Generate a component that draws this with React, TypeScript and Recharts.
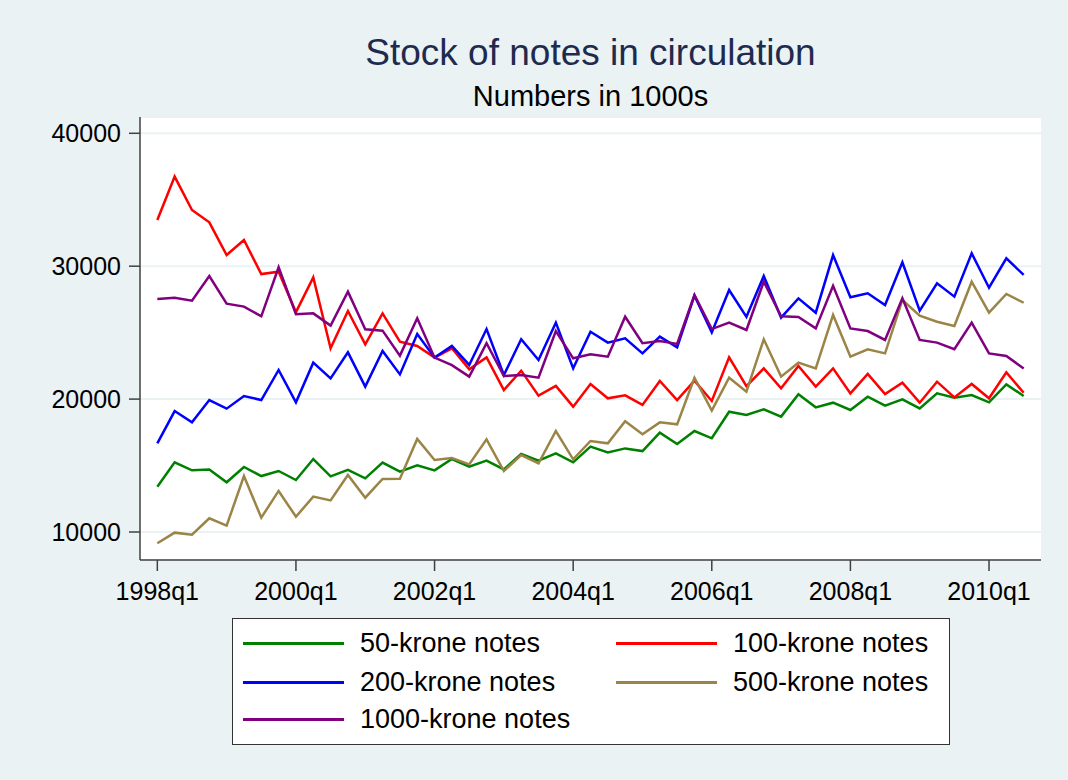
import React from "react";
import {
  LineChart,
  Line,
  XAxis,
  YAxis,
  CartesianGrid,
} from "recharts";

// quarterly, 1998q1 .. 2010q3 (index 0..50)
const tickIdx = [0, 8, 16, 24, 32, 40, 48];
const tickLabels = ["1998q1", "2000q1", "2002q1", "2004q1", "2006q1", "2008q1", "2010q1"];
const yTicks = [10000, 20000, 30000, 40000];

const notes50 = [
  13410, 15240, 14640, 14710, 13740, 14890, 14210, 14590, 13910,
  15490, 14190, 14670, 14040, 15220, 14540, 15020, 14640,
  15490, 14910, 15370, 14710, 15870, 15370, 15920, 15240, 16420,
  15990, 16290, 16090, 17470, 16620, 17600, 17050, 19050, 18800,
  19230, 18680, 20360, 19380, 19730, 19180, 20180, 19510,
  19980, 19300, 20430, 20110, 20310, 19760, 21110, 20230,
];
const notes100 = [
  33480, 36740, 34230, 33300, 30840, 31970, 29410, 29590, 26540,
  29160, 23820, 26630, 24120, 26450, 24320, 24000, 23120,
  23820, 22240, 23140, 20680, 22140, 20260, 20990, 19430, 21140,
  20060, 20280, 19560, 21360, 19930, 21390, 19860, 23140, 20970,
  22310, 20810, 22490, 20940, 22310, 20430, 21890, 20380,
  21230, 19730, 21310, 20130, 21140, 20060, 22010, 20480,
];
const notes200 = [
  16670, 19100, 18250, 19930, 19280, 20230, 19930, 22190, 19760,
  22740, 21560, 23520, 20940, 23620, 21860, 24900, 23120,
  24000, 22570, 25270, 21810, 24500, 22940, 25750, 22310, 25070,
  24250, 24570, 23440, 24700, 23900, 27780, 25020, 28210, 26190,
  29260, 26130, 27580, 26500, 30840, 27660, 27960, 27080,
  30290, 26650, 28710, 27710, 30970, 28380, 30590, 29340,
];
const notes500 = [
  9150, 9950, 9800, 11030, 10480, 14210, 11080, 13090, 11150,
  12660, 12380, 14290, 12580, 13990, 14010, 17000, 15420,
  15570, 15090, 16970, 14590, 15790, 15170, 17600, 15470, 16850,
  16670, 18330, 17350, 18250, 18100, 21610, 19130, 21610, 20560,
  24500, 21690, 22740, 22310, 26330, 23190, 23750, 23440,
  27460, 26280, 25820, 25500, 28830, 26500, 27910, 27250,
];
const notes1000 = [
  27530, 27630, 27410, 29260, 27180, 26960, 26230, 29920, 26380,
  26450, 25530, 28080, 25250, 25150, 23270, 26080, 23120,
  22550, 21690, 24200, 21740, 21810, 21610, 25120, 23070, 23370,
  23190, 26200, 24200, 24370, 24150, 27830, 25270, 25750, 25200,
  28830, 26230, 26180, 25320, 28530, 25320, 25120, 24450,
  27580, 24450, 24250, 23750, 25750, 23440, 23240, 22310,
];

const series = [
  { key: "n50", name: "50-krone notes", color: "#008000", values: notes50 },
  { key: "n100", name: "100-krone notes", color: "#ff0000", values: notes100 },
  { key: "n200", name: "200-krone notes", color: "#0000ff", values: notes200 },
  { key: "n500", name: "500-krone notes", color: "#9a8446", values: notes500 },
  { key: "n1000", name: "1000-krone notes", color: "#800080", values: notes1000 },
];

const data = notes50.map((_, i) => {
  const row: Record<string, number> = { t: i };
  series.forEach((s) => (row[s.key] = s.values[i]));
  return row;
});

const FONT = "'Liberation Sans', Arial, sans-serif";
const BG = "#eaf2f3";
const AXIS = "#404040";

function LegendBox() {
  const cols = [243, 616];
  const rows = [643, 682, 719];
  return (
    <div
      style={{
        position: "absolute",
        left: 232,
        top: 618,
        width: 716,
        height: 125,
        background: "#fff",
        border: "1px solid #333",
      }}
    >
      {series.map((s, i) => {
        const x = cols[i % 2] - 233;
        const y = rows[Math.floor(i / 2)] - 619;
        return (
          <div key={s.key} style={{ position: "absolute", left: x, top: y - 15, height: 30, display: "flex", alignItems: "center" }}>
            <div style={{ width: 101, height: 3, background: s.color }} />
            <span style={{ marginLeft: 16, fontSize: 27, fontFamily: FONT, color: "#000", whiteSpace: "nowrap" }}>{s.name}</span>
          </div>
        );
      })}
    </div>
  );
}

export default function App() {
  return (
    <div
      style={{
        position: "absolute",
        left: 0,
        top: 0,
        width: 1068,
        height: 780,
        background: BG,
        fontFamily: FONT,
      }}
    >
      <div style={{ position: "absolute", left: 140, width: 901, top: 34, textAlign: "center", fontSize: 37, lineHeight: "37px", color: "#1e2a4e" }}>
        Stock of notes in circulation
      </div>
      <div style={{ position: "absolute", left: 140, width: 901, top: 82, textAlign: "center", fontSize: 29, lineHeight: "29px", color: "#000" }}>
        Numbers in 1000s
      </div>
      <LineChart
        width={1068}
        height={780}
        data={data}
        margin={{ top: 117, right: 27, bottom: 180, left: 0 }}
      >
        <CartesianGrid vertical={false} fill="#fff" stroke={BG} strokeWidth={2} />
        <XAxis
          dataKey="t"
          type="number"
          domain={[-1, 51]}
          ticks={tickIdx}
          tickFormatter={(v: number) => tickLabels[tickIdx.indexOf(v)] ?? ""}
          height={40}
          stroke={AXIS}
          strokeWidth={1.5}
          tickSize={11}
          tickMargin={11}
          tick={{ fill: "#000", fontSize: 25, fontFamily: FONT }}
          interval={0}
        />
        <YAxis
          type="number"
          domain={[7893, 41226]}
          ticks={yTicks}
          width={140}
          stroke={AXIS}
          strokeWidth={1.5}
          tickSize={11}
          tickMargin={8}
          tick={{ fill: "#000", fontSize: 25, fontFamily: FONT }}
          interval={0}
          allowDataOverflow
        />
        {series.map((s) => (
          <Line
            key={s.key}
            dataKey={s.key}
            name={s.name}
            stroke={s.color}
            strokeWidth={2.5}
            dot={false}
            type="linear"
            isAnimationActive={false}
          />
        ))}
      </LineChart>
      <LegendBox />
    </div>
  );
}
